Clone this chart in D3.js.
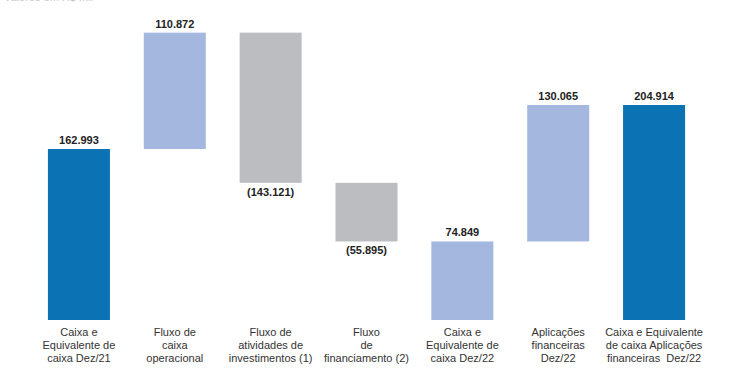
<!DOCTYPE html>
<html>
<head>
<meta charset="utf-8">
<script src="https://cdn.jsdelivr.net/npm/d3@7"></script>
<style>
  body{margin:0;background:#fff;}
  svg{display:block;font-family:"Liberation Sans",Arial,sans-serif;}
  .cat tspan{white-space:pre;}
</style>
</head>
<body>
<svg id="svg" width="746" height="371"></svg>
<script>
// valores em R$ mil
var categories = [
  ["Caixa e","Equivalente de","caixa Dez/21"],
  ["Fluxo de","caixa","operacional"],
  ["Fluxo de","atividades de","investimentos (1)"],
  ["Fluxo","de","financiamento (2)"],
  ["Caixa e","Equivalente de","caixa Dez/22"],
  ["Aplicações","financeiras","Dez/22"],
  ["Caixa e Equivalente","de caixa Aplicações","financeiras  Dez/22"]
];
var values = [162993, 110872, -143121, -55895, 74849, 130065, 204914];
// total = bar from zero, step = floating bar
var kinds = ["total","step","step","step","subtotal","step","total"];

var colors = {total:"#0b72b4", subtotal:"#a4b8df", up:"#a4b8df", down:"#bcbdc1"};

var svg = d3.select("#svg");

var loc = d3.formatLocale({decimal:",", thousands:".", grouping:[3], currency:["R$",""]});
var fmt = loc.format(",d");
function label(v){
  var s = fmt(Math.abs(v));
  return v < 0 ? "(" + s + ")" : s;
}

// build waterfall rows
var rows = [];
var running = 0;
values.forEach(function(v,i){
  var k = kinds[i], lo, hi;
  if(k === "total" || k === "subtotal"){
    lo = 0; hi = v; running = v;
  }else{
    lo = running; hi = running + v; running = hi;
  }
  rows.push({i:i, v:v, y0:Math.min(lo,hi), y1:Math.max(lo,hi),
    color: k === "total" ? colors.total : k === "subtotal" ? colors.subtotal : (v < 0 ? colors.down : colors.up)});
});

var x = d3.scaleBand().domain(d3.range(categories.length))
  .range([31, 702]).paddingInner(0.353).paddingOuter(0.1765);

var y = d3.scaleLinear().domain([0, 204914]).range([320, 105]);

// unit note, clipped at the top edge as in the source
svg.append("text").attr("x",4).attr("y",0.5)
  .attr("font-size",11).attr("fill","#c8c8c8").text("Valores em R$ mil");

svg.selectAll("rect.bar").data(rows).enter().append("rect")
  .attr("class","bar")
  .attr("x",function(d){ return x(d.i); })
  .attr("width",x.bandwidth())
  .attr("y",function(d){ return y(d.y1); })
  .attr("height",function(d){ return y(d.y0) - y(d.y1); })
  .attr("fill",function(d){ return d.color; });

svg.selectAll("text.val").data(rows).enter().append("text")
  .attr("class","val")
  .attr("x",function(d){ return x(d.i) + x.bandwidth()/2; })
  .attr("y",function(d){ return d.v < 0 ? y(d.y0) + 13 : y(d.y1) - 5; })
  .attr("text-anchor","middle")
  .attr("font-size",11).attr("font-weight","bold").attr("fill","#222")
  .text(function(d){ return label(d.v); });

var cat = svg.selectAll("text.cat").data(categories).enter().append("text")
  .attr("class","cat")
  .attr("text-anchor","middle")
  .attr("font-size",11).attr("fill","#333")
  .attr("transform",function(d,i){ return "translate(" + (x(i) + x.bandwidth()/2) + ",336)"; });

cat.selectAll("tspan").data(function(d){ return d; }).enter().append("tspan")
  .attr("x",0).attr("y",function(d,j){ return j*13; })
  .text(function(d){ return d; });
</script>
</body>
</html>
